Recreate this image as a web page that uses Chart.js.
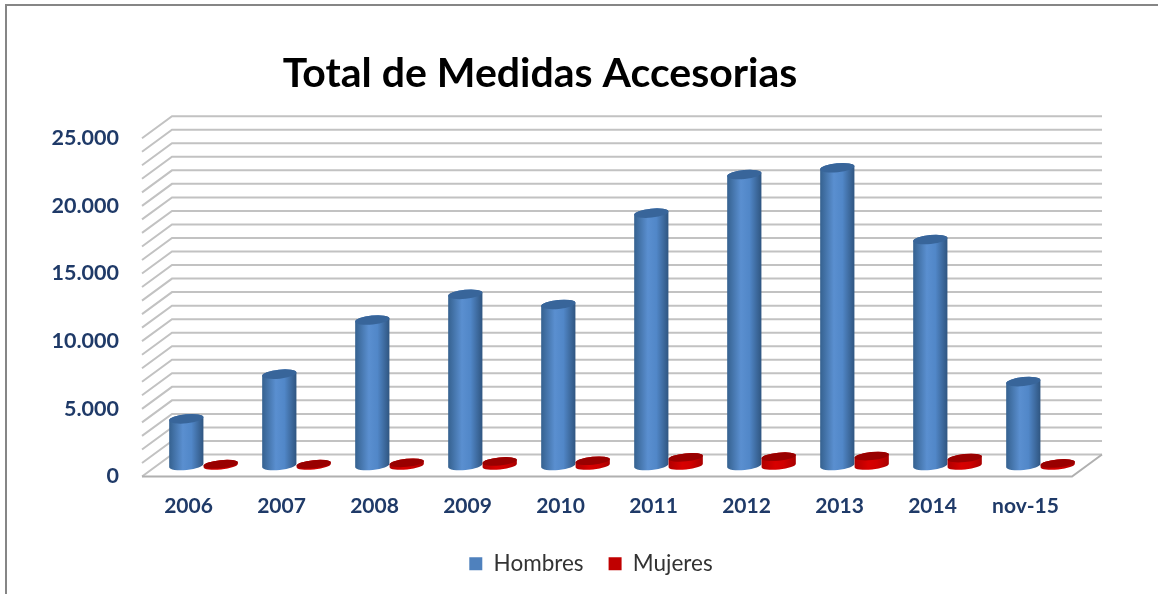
<!DOCTYPE html>
<html>
<head>
<meta charset="utf-8">
<title>Total de Medidas Accesorias</title>
<script src="https://cdn.jsdelivr.net/npm/chart.js@4"></script>
<style>
    html, body { margin: 0; padding: 0; background: #fff; overflow: hidden; }
    #wrap { position: relative; width: 1158px; height: 594px; }
    #frame { position: absolute; left: 5px; top: 4px; width: 1200px; height: 700px; border: 2px solid #868686; }
    canvas { position: absolute; left: 0; top: 0; }
</style>
</head>
<body>
<div id="wrap">
    <div id="frame"></div>
    <canvas id="medidasChart" width="1158" height="594"></canvas>
</div>
<script>
const categories = ['2006', '2007', '2008', '2009', '2010', '2011', '2012', '2013', '2014', 'nov-15'];
const hombres = [3450, 6750, 10750, 12650, 11900, 18650, 21500, 22000, 16700, 6200];
const mujeres = [100, 100, 200, 300, 350, 600, 650, 700, 550, 150];
const yTickLabels = ['0', '5.000', '10.000', '15.000', '20.000', '25.000'];

// oblique depth of the floor, front edge to back wall
const depthX = 30;
const depthY = 22;
const tilt = -0.1;

const blueBody = ['#35618f', '#5a8fd0', '#5187c8', '#2f5580'];
const redBody = ['#b00000', '#d80000', '#d00000', '#a80000'];

function drawWalls(chart) {
    const ctx = chart.ctx;
    const y = chart.scales.y;
    const left = chart.chartArea.left;
    const right = chart.chartArea.right;

    ctx.save();
    ctx.lineWidth = 2;
    ctx.strokeStyle = '#c2c2c2';
    y.ticks.forEach(function(t) {
        const py = y.getPixelForValue(t.value);
        ctx.beginPath();
        ctx.moveTo(left, py);
        ctx.lineTo(left + depthX, py - depthY);
        ctx.lineTo(right + depthX, py - depthY);
        ctx.stroke();
    });

    // floor
    const py0 = y.getPixelForValue(0);
    ctx.strokeStyle = '#b0b0b0';
    ctx.beginPath();
    ctx.moveTo(left, py0);
    ctx.lineTo(right, py0);
    ctx.lineTo(right + depthX, py0 - depthY);
    ctx.stroke();
    ctx.restore();
}

function drawCylinder(ctx, bar, colors, capColor, ry) {
    // bars stand in the middle of the floor depth
    const cx = bar.x + depthX / 2;
    const topY = bar.y - depthY / 2;
    const baseY = bar.base - depthY / 2;
    const rx = bar.width / 2;

    const grad = ctx.createLinearGradient(cx - rx, 0, cx + rx, 0);
    grad.addColorStop(0, colors[0]);
    grad.addColorStop(0.4, colors[1]);
    grad.addColorStop(0.65, colors[2]);
    grad.addColorStop(1, colors[3]);

    ctx.beginPath();
    ctx.ellipse(cx, baseY, rx, ry, tilt, 0, Math.PI);
    ctx.ellipse(cx, topY, rx, ry, tilt, Math.PI, 0);
    ctx.closePath();
    ctx.fillStyle = grad;
    ctx.fill();

    ctx.beginPath();
    ctx.ellipse(cx, topY, rx, ry, tilt, 0, Math.PI * 2);
    ctx.fillStyle = capColor;
    ctx.fill();
}

const cylinders = {
    id: 'cylinders',
    afterLayout: function(chart) {
        // legend sits right of the centre in the original
        chart.legend.left += 51;
        chart.legend.right += 51;
        chart.legend.top -= 9;
        chart.legend.bottom -= 9;
    },
    beforeDatasetsDraw: drawWalls,
    beforeDatasetDraw: function() {
        return false;
    },
    afterDatasetsDraw: function(chart) {
        const ctx = chart.ctx;
        ctx.save();
        chart.getDatasetMeta(0).data.forEach(function(bar) {
            drawCylinder(ctx, bar, blueBody, '#38659a', 4.5);
        });
        chart.getDatasetMeta(1).data.forEach(function(bar) {
            drawCylinder(ctx, bar, redBody, '#990000', 4);
        });
        ctx.restore();
    }
};

new Chart(document.getElementById('medidasChart').getContext('2d'), {
    type: 'bar',
    data: {
        labels: categories,
        datasets: [
            { label: 'Hombres', data: hombres, backgroundColor: '#4f81bd' },
            { label: 'Mujeres', data: mujeres, backgroundColor: '#c00000' }
        ]
    },
    options: {
        responsive: false,
        animation: false,
        events: [],
        layout: { padding: { left: 8, right: 86, top: 0, bottom: 0 } },
        datasets: { bar: { categoryPercentage: 0.74, barPercentage: 1 } },
        plugins: {
            tooltip: { enabled: false },
            title: {
                display: true,
                text: 'Total de Medidas Accesorias',
                color: '#000',
                font: { family: 'Lato', size: 41, weight: 'bold', lineHeight: 1.2 },
                padding: { top: 49, bottom: 40 }
            },
            legend: {
                position: 'bottom',
                labels: {
                    boxWidth: 13,
                    boxHeight: 13,
                    padding: 25,
                    color: '#333',
                    font: { family: 'Lato', size: 22.5 }
                }
            }
        },
        scales: {
            x: {
                grid: { display: false },
                border: { display: false },
                ticks: {
                    color: '#1f3a68',
                    font: { family: 'Lato', size: 21, weight: 'bold' },
                    padding: 9,
                    maxRotation: 0,
                    autoSkip: false
                },
                afterFit: function(scale) { scale.height = 60; }
            },
            y: {
                min: 0,
                max: 25000,
                grid: { display: false },
                border: { display: false },
                ticks: {
                    stepSize: 1000,
                    autoSkip: false,
                    color: '#1f3a68',
                    font: { family: 'Lato', size: 21.5, weight: 'bold' },
                    padding: 15,
                    callback: function(v) {
                        return v % 5000 === 0 ? yTickLabels[v / 5000] : '';
                    }
                },
                afterFit: function(scale) { scale.width = 134; }
            }
        }
    },
    plugins: [cylinders]
});
</script>
</body>
</html>
